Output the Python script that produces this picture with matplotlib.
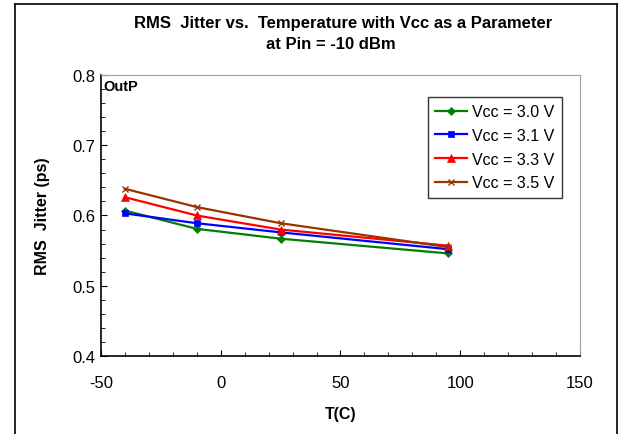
import matplotlib.pyplot as plt
from matplotlib.lines import Line2D
from matplotlib.ticker import MultipleLocator

plt.rcParams['font.family'] = ['Liberation Sans', 'DejaVu Sans']
plt.rcParams['axes.unicode_minus'] = False

temps = [-40, -10, 25, 95]
vcc_labels = ['Vcc = 3.0 V', 'Vcc = 3.1 V', 'Vcc = 3.3 V', 'Vcc = 3.5 V']
jit_30 = [0.607, 0.581, 0.567, 0.546]
jit_31 = [0.603, 0.589, 0.576, 0.552]
jit_33 = [0.626, 0.600, 0.580, 0.557]
jit_35 = [0.638, 0.612, 0.589, 0.555]


def main():
    fig = plt.figure(figsize=(6.18, 4.35), dpi=100)
    ax = fig.add_axes([0.1634, 0.1793, 0.775, 0.6460])

    styles = [('#008000', 'D', 4.5), ('#0000ff', 's', 5), ('#ff0000', '^', 6), ('#993300', 'x', 5)]
    for ys, lab, (c, m, ms) in zip([jit_30, jit_31, jit_33, jit_35], vcc_labels, styles):
        ax.plot(temps, ys, color=c, marker=m, markersize=ms, lw=1.6, label=lab,
                markeredgewidth=1.0 if m == 'x' else 0.5)

    ax.set_xlim(-50, 150)
    ax.set_ylim(0.4, 0.8)
    ax.xaxis.set_major_locator(MultipleLocator(50))
    ax.xaxis.set_minor_locator(MultipleLocator(10))
    ax.yaxis.set_major_locator(MultipleLocator(0.1))
    ax.yaxis.set_minor_locator(MultipleLocator(0.02))
    ax.yaxis.set_major_formatter(plt.FuncFormatter(lambda v, p: f'{v:.1f}'))
    ax.tick_params(which='both', direction='in', labelsize=12)
    ax.tick_params(axis='x', which='major', length=4, pad=14)
    ax.tick_params(axis='y', which='major', length=4, pad=4)
    ax.tick_params(which='minor', length=3)
    for s in ['top', 'right']:
        ax.spines[s].set_color('#a0a0a0')
    ax.spines['left'].set_linewidth(1.2)
    ax.spines['bottom'].set_linewidth(1.2)

    ax.set_xlabel('T(C)', fontsize=11.5, fontweight='bold', labelpad=11)
    ax.set_ylabel('RMS  Jitter (ps)', fontsize=11.5, fontweight='bold', labelpad=16)
    ax.text(0.006, 0.985, 'OutP', transform=ax.transAxes, fontsize=10.5, fontweight='bold',
            va='top', ha='left')

    leg = ax.legend(loc='upper right', bbox_to_anchor=(0.9624, 0.922), borderaxespad=0,
                    fontsize=11.5, frameon=True, fancybox=False, edgecolor='black',
                    handlelength=2.0, borderpad=0.45, labelspacing=0.55, handletextpad=0.35)
    leg.get_frame().set_linewidth(1.0)

    fig.text(0.555, 0.946, 'RMS  Jitter vs.  Temperature with Vcc as a Parameter',
             ha='center', va='center', fontsize=12, fontweight='bold')
    fig.text(0.536, 0.897, 'at Pin = -10 dBm', ha='center', va='center',
             fontsize=12, fontweight='bold')

    # outer chart border
    fig.add_artist(Line2D([0.0235, 0.0235], [0, 0.988], color='black', lw=1.2))
    fig.add_artist(Line2D([0.0235, 1], [0.988, 0.988], color='black', lw=1.2))
    fig.add_artist(Line2D([0.998, 0.998], [0, 0.988], color='black', lw=1.2))

    fig.savefig('out.png', dpi=100)


if __name__ == '__main__':
    main()
